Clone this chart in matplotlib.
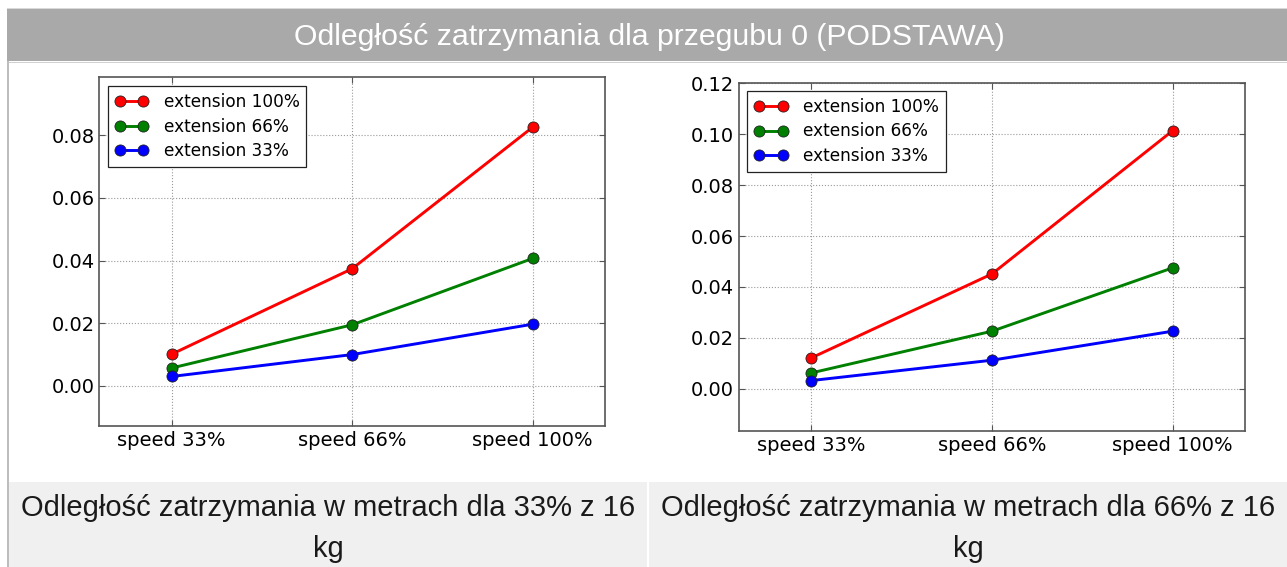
import matplotlib.pyplot as plt
from matplotlib.patches import Rectangle

speeds = ["speed 33%", "speed 66%", "speed 100%"]
series_names = ["extension 100%", "extension 66%", "extension 33%"]
series_colors = ["r", "g", "b"]

# stopping distance [m], 33% payload
left_ext100 = [0.0101, 0.0374, 0.0826]
left_ext66 = [0.0057, 0.0195, 0.0407]
left_ext33 = [0.0030, 0.0100, 0.0197]

# stopping distance [m], 66% payload
right_ext100 = [0.0121, 0.0451, 0.1014]
right_ext66 = [0.0062, 0.0226, 0.0475]
right_ext33 = [0.0032, 0.0112, 0.0226]

header = "Odległość zatrzymania dla przegubu 0 (PODSTAWA)"
captions = [("Odległość zatrzymania w metrach dla 33% z 16", "kg"),
            ("Odległość zatrzymania w metrach dla 66% z 16", "kg")]

W, H = 1287, 567
fig = plt.figure(figsize=(W / 100, H / 100), dpi=100)


def box(x0, y0, x1, y1):
    # pixel box (top-left origin) -> figure fraction rect
    return [x0 / W, 1 - y1 / H, (x1 - x0) / W, (y1 - y0) / H]


def add_rect(x0, y0, x1, y1, color):
    l, b, w, h = box(x0, y0, x1, y1)
    fig.patches.append(Rectangle((l, b), w, h, transform=fig.transFigure,
                                 facecolor=color, edgecolor="none", zorder=0))


# table-like frame
add_rect(7, 8, W, 9.5, "#d9d9d9")
add_rect(7, 9.5, W, 61, "#a9a9a9")
add_rect(7, 62, W, 63, "#d0d0d0")
add_rect(6.5, 61, 8.5, H, "#bdbdbd")
add_rect(8.5, 482, 647.5, H, "#eff0ef")
add_rect(649.5, 482, W, H, "#eff0ef")

txt_font = ["Liberation Sans", "DejaVu Sans"]
fig.text(649 / W, 1 - 37 / H, header, color="white", fontsize=21.8,
         family=txt_font, ha="center", va="center")
for cx, (line1, line2) in zip([328, 968], captions):
    fig.text(cx / W, 1 - 508 / H, line1, color="#1a1a1a", fontsize=21,
             family=txt_font, ha="center", va="center")
    fig.text(cx / W, 1 - 549 / H, line2, color="#1a1a1a", fontsize=21,
             family=txt_font, ha="center", va="center")

panels = [
    (box(99.3, 77.3, 605, 426), [left_ext100, left_ext66, left_ext33],
     (-0.0128, 0.0985), [0.0, 0.02, 0.04, 0.06, 0.08], (0.0166, 0.975)),
    (box(739, 83.3, 1245, 430.7), [right_ext100, right_ext66, right_ext33],
     (-0.0165, 0.12), [0.0, 0.02, 0.04, 0.06, 0.08, 0.10, 0.12], (0.0158, 0.978)),
]

x = list(range(len(speeds)))
for rect, series, ylim, yticks, anchor in panels:
    ax = fig.add_axes(rect)
    for vals, name, col in zip(series, series_names, series_colors):
        ax.plot(x, vals, color=col, lw=2.1, marker="o", markersize=8,
                markeredgecolor="#222222", markeredgewidth=0.6, label=name)
    ax.set_xlim(-0.4, 2.4)
    ax.set_ylim(*ylim)
    ax.set_xticks(x)
    ax.set_xticklabels(speeds)
    ax.set_yticks(yticks)
    ax.set_yticklabels([f"{v:.2f}" for v in yticks])
    ax.grid(True, color="#9a9a9a", linestyle=":", linewidth=0.8)
    ax.tick_params(direction="in", top=True, right=True, length=4,
                   width=0.8, color="#555555", labelsize=14, pad=3.5)
    for s in ax.spines.values():
        s.set_color("#555555")
        s.set_linewidth(1.2)
    leg = ax.legend(loc="upper left", bbox_to_anchor=anchor, borderaxespad=0,
                    fontsize=12.2, numpoints=2, handlelength=2.0,
                    handletextpad=0.9, fancybox=False, framealpha=1,
                    borderpad=0.4, labelspacing=0.4)
    leg.get_frame().set_edgecolor("#222222")
    leg.get_frame().set_linewidth(0.9)

fig.savefig("out.png", dpi=100, facecolor="white")
